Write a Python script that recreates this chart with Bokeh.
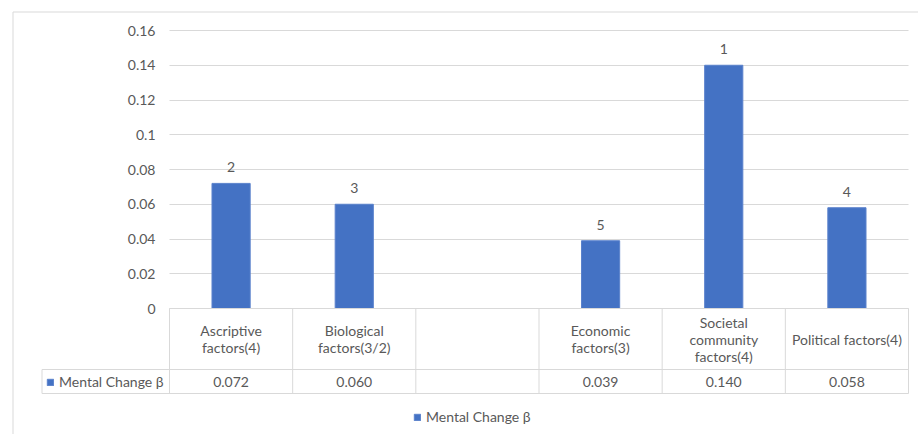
from bokeh.plotting import figure
from bokeh.models import (Range1d, FixedTicker, CustomJSTickFormatter, ColumnDataSource,
                          Legend, LegendItem)
from bokeh.core.properties import value
from bokeh.embed import file_html
from bokeh.resources import INLINE

# --- data -------------------------------------------------------------------
categories = ["Ascriptive\nfactors(4)", "Biological\nfactors(3/2)", "",
              "Economic\nfactors(3)", "Societal\ncommunity\nfactors(4)",
              "Political factors(4)"]
mental_change = [0.072, 0.060, None, 0.039, 0.140, 0.058]
ranks = ["2", "3", "", "5", "1", "4"]
series_name = "Mental Change \u03b2"
y_ticks = [0, 0.02, 0.04, 0.06, 0.08, 0.10, 0.12, 0.14, 0.16]

# --- styling / layout -------------------------------------------------------
W, H = 918, 434
FONT = "Lato"
FS = "14px"
TEXT = "#595959"
GRID = "#d9d9d9"
BAR = "#4472C4"

FRAME_LEFT, FRAME_TOP = 11, 10          # the frame spans almost the whole canvas
PLOT_LEFT, PLOT_RIGHT = 169, 908        # columns of the category axis
ZERO_PX, TOP_PX = 308, 30               # rows of 0 and of the top tick
n = len(categories)
PX_PER_X = (PLOT_RIGHT - PLOT_LEFT) / n
PX_PER_Y = (ZERO_PX - TOP_PX) / y_ticks[-1]


def x_at(px):
    return -0.5 + (px - PLOT_LEFT) / PX_PER_X


def y_at(py):
    return (ZERO_PX - py) / PX_PER_Y


xs = list(range(n))
tops = [float("nan") if v is None else v for v in mental_change]

p = figure(width=W, height=H, output_backend="svg", toolbar_location=None,
           x_range=Range1d(x_at(FRAME_LEFT), x_at(W)),
           y_range=Range1d(y_at(H), y_at(FRAME_TOP)),
           min_border_left=FRAME_LEFT, min_border_right=0,
           min_border_top=FRAME_TOP, min_border_bottom=0)
p.outline_line_color = None
p.background_fill_color = "white"
p.border_fill_color = "white"

# axes: tick labels pulled back inside the frame, right-aligned next to the bars
p.xaxis.visible = False
p.xgrid.visible = False
yax = p.yaxis[0]
yax.ticker = FixedTicker(ticks=y_ticks)
yax.formatter = CustomJSTickFormatter(code="return String(+tick.toFixed(4));")
yax.axis_line_color = None
yax.major_tick_line_color = None
yax.minor_tick_line_color = None
yax.major_tick_in = 0
yax.major_tick_out = 0
yax.major_label_standoff = -(PLOT_LEFT - 14 - FRAME_LEFT)
yax.major_label_text_font = FONT
yax.major_label_text_font_size = FS
yax.major_label_text_color = TEXT
p.ygrid.ticker = FixedTicker(ticks=y_ticks)
p.ygrid.cross_bounds = (-0.5, n - 0.5)
p.ygrid.grid_line_color = GRID
p.ygrid.grid_line_width = 1

# bars
src = ColumnDataSource(dict(x=xs, top=tops, rank=ranks, cat=categories,
                            val=["" if v is None else f"{v:.3f}" for v in mental_change]))
bars = p.vbar(x="x", top="top", width=0.31, source=src,
              fill_color=BAR, line_color="#5b82cc", line_width=1)

# rank labels above the bars
p.text(x="x", y="top", text="rank", source=src, y_offset=-16,
       text_font=value(FONT), text_font_size=FS, text_color=TEXT,
       text_align="center", text_baseline="middle")

# --- data table below the plot ----------------------------------------------
HEAD_BOTTOM, ROW_BOTTOM, KEY_LEFT = 369, 393, 41.5
edges = [i - 0.5 for i in range(n + 1)]
p.segment(x0=edges, x1=edges, y0=[0] * len(edges), y1=[y_at(ROW_BOTTOM)] * len(edges),
          line_color=GRID, line_width=1)
p.segment(x0=[-0.5, x_at(KEY_LEFT), x_at(KEY_LEFT), x_at(KEY_LEFT)],
          x1=[n - 0.5, n - 0.5, n - 0.5, x_at(KEY_LEFT)],
          y0=[0, y_at(HEAD_BOTTOM), y_at(ROW_BOTTOM), y_at(HEAD_BOTTOM)],
          y1=[0, y_at(HEAD_BOTTOM), y_at(ROW_BOTTOM), y_at(ROW_BOTTOM)],
          line_color=GRID, line_width=1)

p.text(x="x", y=y_at((ZERO_PX + HEAD_BOTTOM) / 2), text="cat", source=src,
       text_font=value(FONT), text_font_size=FS, text_color=TEXT,
       text_align="center", text_baseline="middle", text_line_height=1.0)
p.text(x="x", y=y_at((HEAD_BOTTOM + ROW_BOTTOM) / 2), text="val", source=src,
       text_font=value(FONT), text_font_size=FS, text_color=TEXT,
       text_align="center", text_baseline="middle")

# series keys: one in the table's value row, one under the chart
common = dict(glyph_width=8, glyph_height=8, label_standoff=5, padding=0, margin=0,
              border_line_alpha=0, background_fill_alpha=0,
              label_text_font=FONT, label_text_font_size=FS,
              label_text_color=TEXT, orientation="horizontal")
cell_key = Legend(items=[LegendItem(label=series_name, renderers=[bars])],
                  location=(46 - FRAME_LEFT, H - 390), **common)
p.add_layout(cell_key)
bottom_key = Legend(items=[LegendItem(label=series_name, renderers=[bars])],
                    location=(413 - FRAME_LEFT, H - 425), **common)
p.add_layout(bottom_key)

# chart-area border (left and top edges)
bx, by = x_at(12.5), y_at(11.5)
p.segment(x0=[bx, bx], x1=[bx, x_at(W + 5)], y0=[by, by], y1=[y_at(H + 5), by],
          line_color=GRID, line_width=1)

open("out.html", "w").write(file_html(p, INLINE))
